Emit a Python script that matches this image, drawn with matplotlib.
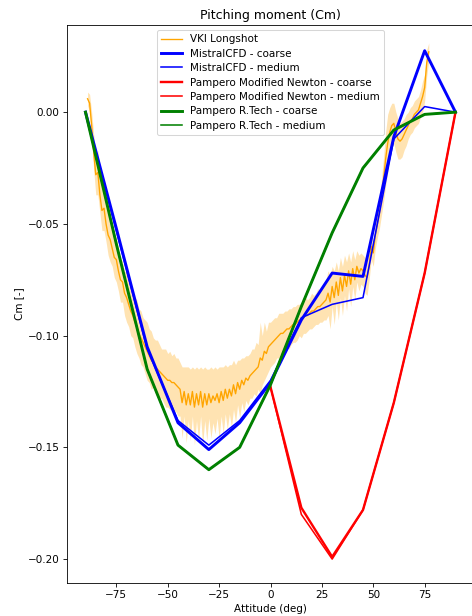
import matplotlib
matplotlib.use("Agg")
import matplotlib.pyplot as plt
import numpy as np

# ---------------- data ----------------
cfd_attitude = [-90, -75, -60, -45, -30, -15, 0, 15, 30, 45, 60, 75, 90]
mistral_coarse = [0.0, -0.052, -0.105, -0.139, -0.151, -0.139, -0.121, -0.093, -0.072, -0.0735, -0.011, 0.0275, 0.0]
mistral_medium = [0.0, -0.053, -0.106, -0.138, -0.149, -0.138, -0.120, -0.092, -0.086, -0.083, -0.012, 0.0025, 0.0]
rtech_coarse = [0.0, -0.059, -0.115, -0.149, -0.160, -0.150, -0.122, -0.087, -0.054, -0.025, -0.008, -0.001, 0.0]
rtech_medium = [0.0, -0.059, -0.115, -0.149, -0.160, -0.150, -0.122, -0.087, -0.054, -0.025, -0.008, -0.001, 0.0]

newton_attitude = [0, 15, 30, 45, 60, 75, 90]
newton_coarse = [-0.123, -0.177, -0.199, -0.178, -0.130, -0.072, 0.0]
newton_medium = [-0.123, -0.180, -0.200, -0.178, -0.130, -0.072, 0.0]

vki_attitude = list(range(-89, 78))
vki_mean = [
    0.006, 0.004, -0.006, -0.018, -0.028, -0.027, -0.037, -0.044, -0.043, -0.050,
    -0.055, -0.057, -0.061, -0.065, -0.066, -0.071, -0.075, -0.076, -0.081, -0.083,
    -0.086, -0.089, -0.091, -0.094, -0.096, -0.099, -0.101, -0.103, -0.105, -0.107,
    -0.109, -0.111, -0.112, -0.114, -0.115, -0.116, -0.117, -0.118, -0.119, -0.120,
    -0.120, -0.121, -0.121, -0.122, -0.123,
    -0.124, -0.130, -0.125, -0.131, -0.126, -0.131, -0.125, -0.132, -0.126, -0.131,
    -0.125, -0.132, -0.126, -0.131, -0.126, -0.130, -0.127, -0.129, -0.126, -0.130,
    -0.125, -0.129, -0.124, -0.128, -0.124,
    -0.127, -0.122, -0.126, -0.121, -0.124, -0.120, -0.122, -0.119, -0.120, -0.118,
    -0.117, -0.116, -0.115, -0.114, -0.110, -0.111, -0.107, -0.108, -0.105, -0.104,
    -0.103, -0.102, -0.101, -0.100, -0.099, -0.099, -0.098, -0.097, -0.097, -0.096,
    -0.095, -0.095, -0.094, -0.093, -0.093, -0.092, -0.091, -0.091, -0.090, -0.089,
    -0.089, -0.088, -0.087, -0.087, -0.086, -0.085, -0.084,
    -0.081, -0.085, -0.078, -0.083, -0.076, -0.082, -0.074, -0.080, -0.073, -0.078,
    -0.071, -0.077, -0.070, -0.075, -0.069, -0.072, -0.070, -0.071, -0.073, -0.074,
    -0.069,
    -0.060, -0.063, -0.055, -0.050, -0.045, -0.038, -0.030, -0.021, -0.014, -0.009,
    -0.006, -0.005, -0.009, -0.012, -0.013, -0.012, -0.010, -0.008, -0.006, -0.004,
    -0.003, -0.001, 0.000, 0.001, 0.004, 0.007, 0.011, 0.022, 0.027,
]
vki_std = [
    0.003, 0.004, 0.006, 0.008, 0.009, 0.010, 0.008, 0.009, 0.010, 0.008,
    0.009, 0.010, 0.008, 0.009, 0.010, 0.009, 0.010, 0.009, 0.010, 0.011,
    0.010, 0.011, 0.010, 0.011, 0.012, 0.011, 0.012, 0.011, 0.012, 0.013,
    0.012, 0.013, 0.011, 0.012, 0.013, 0.012, 0.011, 0.012, 0.013, 0.012,
    0.013, 0.012, 0.013, 0.012, 0.013,
    0.012, 0.016, 0.011, 0.017, 0.012, 0.016, 0.011, 0.017, 0.012, 0.016,
    0.011, 0.017, 0.012, 0.016, 0.011, 0.016, 0.012, 0.015, 0.011, 0.016,
    0.011, 0.015, 0.011, 0.014, 0.011,
    0.014, 0.011, 0.013, 0.010, 0.013, 0.010, 0.012, 0.010, 0.011, 0.010,
    0.011, 0.010, 0.012, 0.010, 0.016, 0.011, 0.013, 0.010, 0.011, 0.010,
    0.010, 0.010, 0.009, 0.010, 0.009, 0.009, 0.009, 0.008, 0.009, 0.008,
    0.008, 0.008, 0.008, 0.007, 0.008, 0.007, 0.008, 0.007, 0.007, 0.008,
    0.007, 0.007, 0.008, 0.007, 0.008, 0.008, 0.009,
    0.010, 0.012, 0.009, 0.012, 0.009, 0.011, 0.009, 0.011, 0.009, 0.011,
    0.008, 0.010, 0.008, 0.009, 0.007, 0.008, 0.007, 0.007, 0.008, 0.008,
    0.006,
    0.006, 0.006, 0.006, 0.006, 0.007, 0.008, 0.010, 0.012, 0.013, 0.011,
    0.010, 0.009, 0.009, 0.009, 0.008, 0.008, 0.007, 0.007, 0.006, 0.006,
    0.006, 0.006, 0.006, 0.006, 0.006, 0.007, 0.006, 0.006, 0.004,
]

# ---------------- plot ----------------
plt.rcParams['font.family'] = ['DejaVu Sans']

DPI = 75
fig = plt.figure(figsize=(472 / DPI, 616 / DPI), dpi=DPI)
ax = fig.add_axes([67 / 472, 33 / 616, 407 / 472, 558 / 616])

vx = np.array(vki_attitude)
vm = np.array(vki_mean)
vs = np.array(vki_std)
ax.fill_between(vx, vm - vs, vm + vs, color='orange', alpha=0.3, linewidth=0)
ax.plot(vx, vm, color='orange', linewidth=1.3, label='VKI Longshot')

ax.plot(cfd_attitude, mistral_coarse, color='blue', linewidth=2.8, label='MistralCFD - coarse')
ax.plot(cfd_attitude, mistral_medium, color='blue', linewidth=1.5, label='MistralCFD - medium')
ax.plot(newton_attitude, newton_coarse, color='red', linewidth=2.3, label='Pampero Modified Newton - coarse')
ax.plot(newton_attitude, newton_medium, color='red', linewidth=1.5, label='Pampero Modified Newton - medium')
ax.plot(cfd_attitude, rtech_coarse, color='green', linewidth=2.8, label='Pampero R.Tech - coarse')
ax.plot(cfd_attitude, rtech_medium, color='green', linewidth=1.5, label='Pampero R.Tech - medium')

ax.set_xlim(-99, 99)
ax.set_ylim(-0.2107, 0.039)
ax.set_xticks([-75, -50, -25, 0, 25, 50, 75])
ax.set_yticks([0.0, -0.05, -0.10, -0.15, -0.20])
ax.set_title('Pitching moment (Cm)')
ax.set_xlabel('Attitude (deg)')
ax.set_ylabel('Cm [-]')
ax.legend(loc='upper center', labelspacing=0.42)

fig.savefig('out.png', dpi=DPI)
